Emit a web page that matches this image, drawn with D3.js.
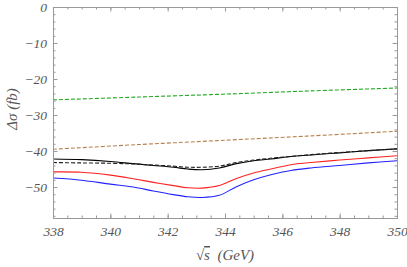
<!DOCTYPE html>
<html>
  <head>
    <meta charset="utf-8">
    <title>Delta sigma vs sqrt(s)</title>
    <script src="https://d3js.org/d3.v7.min.js"></script>
    <style>
      body { margin: 0; background: #fff; }
      text { font-family: "Liberation Serif", serif; font-style: italic; fill: #555; }
    </style>
  </head>
  <body>
    <div id="chart"></div>
    <script>
      // data
      var energies = [338, 339, 340, 340.8, 341.5, 342.2, 342.7, 343.2, 343.8, 344.4, 345, 345.6, 346.3, 347, 348, 349, 350];
      var blackSolid = [-42.2, -42.4, -42.9, -43.5, -44.0, -44.5, -45.0, -45.2, -44.7, -43.5, -42.7, -42.2, -41.5, -41.1, -40.5, -39.9, -39.4];
      var blackDashed = [-43.2, -43.3, -43.4, -43.6, -43.9, -44.2, -44.5, -44.5, -44.2, -43.2, -42.5, -42.0, -41.5, -41.0, -40.4, -39.9, -39.4];
      var red = [-45.8, -45.9, -46.7, -47.7, -48.7, -49.6, -50.2, -50.3, -49.6, -47.6, -46.1, -45.0, -43.8, -43.2, -42.5, -41.9, -41.3];
      var blue = [-47.5, -48.1, -49.2, -50.0, -51.1, -52.1, -52.7, -52.9, -52.3, -49.9, -48.0, -46.6, -45.4, -44.7, -44.0, -43.3, -42.7];
      var lineEnergies = [338, 341, 344, 347, 350];
      var green = [-25.8, -25.0, -24.2, -23.3, -22.5];
      var brown = [-39.5, -38.2, -37.0, -35.8, -34.5];
      var xTicks = [338, 340, 342, 344, 346, 348, 350];
      var yTicks = [0, -10, -20, -30, -40, -50];

      var width = 407, height = 267;
      var margin = { top: 7, right: 10, bottom: 49, left: 53 };

      var svg = d3.select("#chart").append("svg")
        .attr("width", width)
        .attr("height", height);

      var x = d3.scaleLinear().domain([338, 350]).range([margin.left, width - margin.right]);
      var y = d3.scaleLinear().domain([-58.6, 0]).range([height - margin.bottom, margin.top]);

      var line = d3.line()
        .x(function(d) { return x(d[0]); })
        .y(function(d) { return y(d[1]); })
        .curve(d3.curveCatmullRom);

      var series = [
        { xs: lineEnergies, ys: green, color: "#22aa22", dash: "4,2" },
        { xs: lineEnergies, ys: brown, color: "#b5814f", dash: "4,2" },
        { xs: energies, ys: blue, color: "#2222ff", dash: null },
        { xs: energies, ys: red, color: "#ff2222", dash: null },
        { xs: energies, ys: blackSolid, color: "#000", dash: null },
        { xs: energies, ys: blackDashed, color: "#222", dash: "4,2" }
      ];

      svg.append("g").selectAll("path")
        .data(series)
        .enter().append("path")
        .attr("d", function(s) { return line(d3.zip(s.xs, s.ys)); })
        .attr("fill", "none")
        .attr("stroke", function(s) { return s.color; })
        .attr("stroke-width", 1.1)
        .attr("stroke-dasharray", function(s) { return s.dash; });

      // frame with inward ticks on every side
      var frameColor = "#999";
      var minorX = d3.range(338, 350.01, 0.5);
      var minorY = d3.range(-58, 0.01, 2);

      svg.append("g")
        .attr("transform", "translate(0," + y.range()[0] + ")")
        .call(d3.axisBottom(x).tickValues(minorX).tickSize(-2.5).tickFormat(""));
      svg.append("g")
        .attr("transform", "translate(0," + y.range()[0] + ")")
        .call(d3.axisBottom(x).tickValues(xTicks).tickSize(-4.5).tickPadding(8).tickFormat(d3.format("d")));
      svg.append("g")
        .attr("transform", "translate(0," + y.range()[1] + ")")
        .call(d3.axisTop(x).tickValues(minorX).tickSize(-2.5).tickFormat(""));
      svg.append("g")
        .attr("transform", "translate(0," + y.range()[1] + ")")
        .call(d3.axisTop(x).tickValues(xTicks).tickSize(-4.5).tickFormat(""));
      svg.append("g")
        .attr("transform", "translate(" + x.range()[0] + ",0)")
        .call(d3.axisLeft(y).tickValues(minorY).tickSize(-2.5).tickFormat(""));
      svg.append("g")
        .attr("transform", "translate(" + x.range()[0] + ",0)")
        .call(d3.axisLeft(y).tickValues(yTicks).tickSize(-4.5).tickPadding(6)
          .tickFormat(function(d) { return d < 0 ? "\u2212" + (-d) : d; }));
      svg.append("g")
        .attr("transform", "translate(" + x.range()[1] + ",0)")
        .call(d3.axisRight(y).tickValues(minorY).tickSize(-2.5).tickFormat(""));
      svg.append("g")
        .attr("transform", "translate(" + x.range()[1] + ",0)")
        .call(d3.axisRight(y).tickValues(yTicks).tickSize(-4.5).tickFormat(""));

      svg.selectAll(".domain").attr("stroke", frameColor);
      svg.selectAll(".tick line").attr("stroke", frameColor);
      svg.selectAll(".tick text")
        .attr("fill", "#555")
        .style("font-family", "'Liberation Serif', serif")
        .style("font-style", "italic")
        .style("font-size", "13.5px");

      // axis labels
      svg.append("text")
        .attr("transform", "translate(17,109) rotate(-90)")
        .attr("text-anchor", "middle")
        .style("font-size", "15px")
        .text("\u0394\u03c3 (fb)");
      var xl = svg.append("text")
        .attr("x", 225)
        .attr("y", 260)
        .attr("text-anchor", "middle")
        .style("font-size", "15px");
      xl.append("tspan").style("font-style", "normal").text("\u221a");
      xl.append("tspan").attr("text-decoration", "overline").text("s");
      xl.append("tspan").text("\u2002(GeV)");
    </script>
  </body>
</html>
